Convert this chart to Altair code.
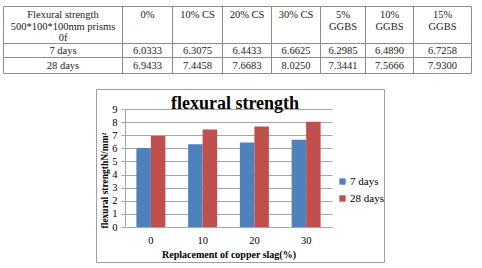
import altair as alt
import pandas as pd

# ---------------- table data ----------------
col_headers = [
    "Flexural strength\n500*100*100mm prisms\n0f",
    "0%", "10% CS", "20% CS", "30% CS",
    "5%\nGGBS", "10%\nGGBS", "15%\nGGBS",
]
row_labels = ["7 days", "28 days"]
table_7_days = [6.0333, 6.3075, 6.4433, 6.6625, 6.2985, 6.4890, 6.7258]
table_28_days = [6.9433, 7.4458, 7.6683, 8.0250, 7.3441, 7.5666, 7.9300]

# ---------------- chart data ----------------
replacement = ["0", "10", "20", "30"]
series = ["7 days", "28 days"]
strength_7_days = [6.0333, 6.3075, 6.4433, 6.6625]
strength_28_days = [6.9433, 7.4458, 7.6683, 8.0250]
chart_title = "flexural strength"
x_title = "Replacement of copper slag(%)"
y_title = "flexural strengthN/mm²"
y_ticks = list(range(10))
series_colors = ["#4F81BD", "#C0504D"]

# ---------------- layout (pixels) ----------------
PX, PY = 125, 109          # plot-area origin
PW, PH = 207, 118          # plot-area size
col_edges = [3.5, 122.5, 172.5, 222.5, 271.5, 320.5, 365.5, 413.5, 471.5]
row_edges = [6.5, 43.5, 57.5, 73.5]
SERIF = "Liberation Serif"

# ---------------- build tables ----------------
cells = []
table_rows = [table_7_days, table_28_days]
for i, h in enumerate(col_headers):
    cells.append(dict(c0=i, c1=i + 1, cm=i + 0.5, r0=0, r1=1, rm=0.5, label=h, kind="head"))
for j, (lab, vals) in enumerate(zip(row_labels, table_rows), start=1):
    cells.append(dict(c0=0, c1=1, cm=0.5, r0=j, r1=j + 1, rm=j + 0.5, label=lab, kind="body"))
    for i, v in enumerate(vals, start=1):
        cells.append(dict(c0=i, c1=i + 1, cm=i + 0.5, r0=j, r1=j + 1, rm=j + 0.5,
                          label=f"{v:.4f}", kind="body"))
cells_df = pd.DataFrame(cells)

bar_rows = []
for s, vals in zip(series, [strength_7_days, strength_28_days]):
    for r, v in zip(replacement, vals):
        bar_rows.append({"Replacement": r, "Series": s, "Strength": v})
bar_df = pd.DataFrame(bar_rows)

tx = alt.Scale(type="linear", domain=list(range(len(col_edges))),
               range=[e - PX for e in col_edges], zero=False, nice=False)
ty = alt.Scale(type="linear", domain=list(range(len(row_edges))),
               range=[e - PY for e in row_edges], zero=False, nice=False)

table_rect = alt.Chart(cells_df).mark_rect(
    fill="white", stroke="#8c8c8c", strokeWidth=1
).encode(
    x=alt.X("c0:Q", scale=tx, axis=None), x2="c1:Q",
    y=alt.Y("r0:Q", scale=ty, axis=None), y2="r1:Q",
)

head_text = alt.Chart(cells_df).transform_filter(alt.datum.kind == "head").mark_text(
    font=SERIF, fontSize=10.5, baseline="top", dy=3.5, lineBreak="\n",
    lineHeight=11.5, color="#222222"
).encode(
    x=alt.X("cm:Q", scale=tx, axis=None),
    y=alt.Y("r0:Q", scale=ty, axis=None),
    text="label:N",
)

body_text = alt.Chart(cells_df).transform_filter(alt.datum.kind == "body").mark_text(
    font=SERIF, fontSize=10.5, baseline="middle", color="#222222"
).encode(
    x=alt.X("cm:Q", scale=tx, axis=None),
    y=alt.Y("rm:Q", scale=ty, axis=None),
    text="label:N",
)

frame = alt.Chart(pd.DataFrame({"f": [0]})).mark_rect(
    fillOpacity=0, stroke="#a0a0a0", strokeWidth=1
).encode(
    x=alt.value(96.5 - PX), x2=alt.value(384.5 - PX),
    y=alt.value(89.5 - PY), y2=alt.value(262.5 - PY),
)

bars = alt.Chart(bar_df).mark_bar().encode(
    x=alt.X("Replacement:N", sort=replacement,
            scale=alt.Scale(paddingInner=0.44, paddingOuter=0.22),
            axis=alt.Axis(title=x_title, labelAngle=0, ticks=False, grid=False,
                          domainColor="#a6a6a6", labelFont=SERIF, labelFontSize=10.5,
                          labelColor="#000000", labelPadding=8,
                          titleFont=SERIF, titleFontSize=10, titleFontWeight="bold",
                          titleColor="#000000", titlePadding=4)),
    xOffset=alt.XOffset("Series:N", sort=series, scale=alt.Scale(paddingInner=0)),
    y=alt.Y("Strength:Q", scale=alt.Scale(domain=[0, 9], nice=False, zero=True),
            axis=alt.Axis(values=y_ticks, title=y_title, format="d",
                          domainColor="#a6a6a6", tickColor="#a6a6a6", tickSize=4,
                          gridColor="#a6a6a6", labelFont=SERIF, labelFontSize=10.5,
                          labelColor="#000000", labelPadding=4,
                          titleFont=SERIF, titleFontSize=9.5, titleFontWeight="bold",
                          titleColor="#000000", titleX=-16, titleY=71)),
    color=alt.Color("Series:N", sort=series,
                    scale=alt.Scale(domain=series, range=series_colors),
                    legend=alt.Legend(title=None, orient="none", legendX=212, legendY=67,
                                      symbolType="square", symbolSize=40,
                                      labelFont=SERIF, labelFontSize=11,
                                      labelColor="#000000", rowPadding=5,
                                      labelOffset=2)),
)

title = alt.Chart(pd.DataFrame({"t": [chart_title]})).mark_text(
    font=SERIF, fontSize=18, fontWeight="bold", baseline="alphabetic",
    align="center", color="#000000"
).encode(text="t:N", x=alt.value(110), y=alt.value(0))

chart = alt.layer(frame, bars, title, table_rect, head_text, body_text).resolve_scale(
    x="independent", y="independent"
).properties(
    width=PW, height=PH,
    padding={"left": PX, "top": PY, "right": 482 - PX - PW, "bottom": 268 - PY - PH},
    autosize=alt.AutoSizeParams(type="none"),
    background="white",
).configure_view(stroke=None)

chart.save("out.html", embed_options={"renderer": "svg", "actions": False})
